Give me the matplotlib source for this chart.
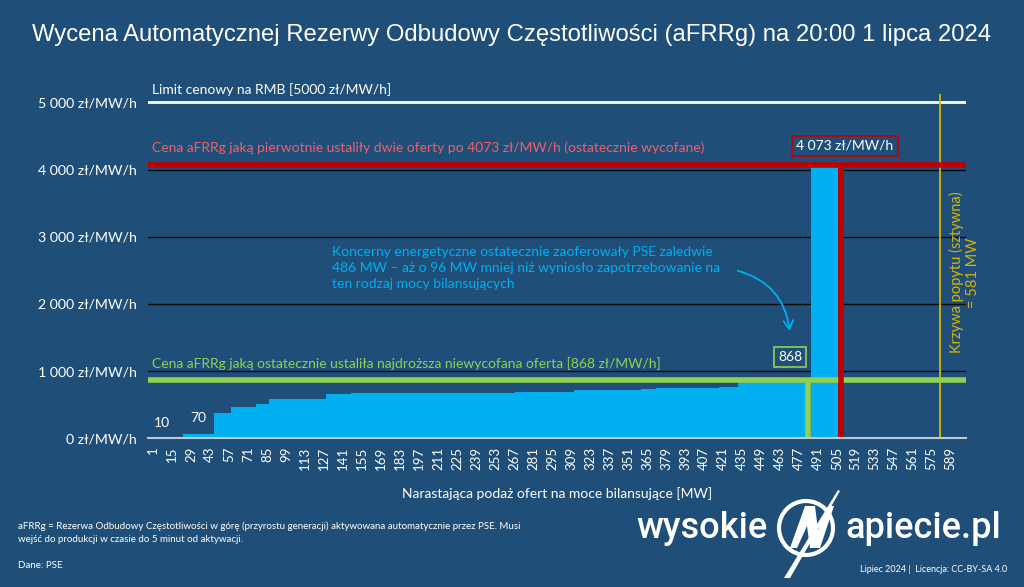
import matplotlib.pyplot as plt
from matplotlib.patches import FancyArrowPatch, Circle, Polygon
from matplotlib.transforms import IdentityTransform

# kolejne oferty: granice skumulowanej mocy [MW] i ceny [zl/MW/h]
edges = [0, 23, 46, 58, 77, 86, 128, 147, 227, 248, 268, 311, 361, 372, 418, 432, 484, 486, 506]
prices = [10, 70, 375, 470, 505, 582, 660, 672, 677, 681, 692, 713, 733, 748, 768, 868, 0, 4073]

limit_price = 5000
withdrawn_price = 4073
clearing_price = 868
accepted_mw = 484
withdrawn_end_mw = 508
demand_mw = 581

xticks = list(range(1, 590, 14))
yticks = [0, 1000, 2000, 3000, 4000, 5000]
ylabels = ["0 zł/MW/h", "1 000 zł/MW/h", "2 000 zł/MW/h", "3 000 zł/MW/h",
           "4 000 zł/MW/h", "5 000 zł/MW/h"]

BG = "#1f4e79"
BLUE = "#00b0f0"
RED = "#c00000"
RED_TXT = "#f0606a"
GREEN = "#92d050"
YELLOW = "#d8b400"
FONT = "Lato"

plt.rcParams["font.family"] = [FONT, "DejaVu Sans"]

W, H = 1024, 587
fig = plt.figure(figsize=(W / 100, H / 100), dpi=100, facecolor=BG)

def px(x, y):
    return x / W, 1 - y / H

l, b = px(148, 438.3)
r, t = px(966, 438.3 - 5200 * 0.0672)
ax = fig.add_axes([l, b, r - l, t - b])
ax.set_facecolor(BG)
ax.set_xlim(-2.9, 600.3)
ax.set_ylim(0, 5200)

ax.stairs(prices, edges, fill=True, color=BLUE, baseline=0, zorder=2)

for y in yticks[1:-1]:
    ax.axhline(y, color="#0a0a0a", lw=1, zorder=1)
ax.axhline(limit_price, color="white", lw=2, zorder=3)
ax.axhline(withdrawn_price, color=RED, lw=4, zorder=4)
ax.axhline(clearing_price, color=GREEN, lw=4, zorder=4)
ax.vlines(withdrawn_end_mw, 0, withdrawn_price, color=RED, lw=4, zorder=4)
ax.vlines(accepted_mw, 0, clearing_price, color=GREEN, lw=4, zorder=4)
ax.vlines(demand_mw, 0, 5130, color=YELLOW, lw=1.3, zorder=3)

ax.set_xticks(xticks)
ax.set_xticklabels([str(v) for v in xticks], rotation=90, fontsize=9.5, color="white")
ax.set_yticks(yticks)
ax.set_yticklabels(ylabels, fontsize=10.2, color="white")
ax.tick_params(length=0)
ax.tick_params(axis="x", pad=6)
ax.tick_params(axis="y", pad=8)
for s in ["top", "right", "left"]:
    ax.spines[s].set_visible(False)
ax.spines["bottom"].set_color("#c0c8d0")
ax.spines["bottom"].set_linewidth(1.5)
ax.spines["bottom"].set_zorder(5)

ax.set_xlabel("Narastająca podaż ofert na moce bilansujące [MW]", color="white",
              fontsize=10, labelpad=12)

# opisy linii
ax.text(0, 5185, "Limit cenowy na RMB [5000 zł/MW/h]", color="white", fontsize=10,
        va="center", ha="left")
ax.text(0, 4320, "Cena aFRRg jaką pierwotnie ustaliły dwie oferty po 4073 zł/MW/h (ostatecznie wycofane)",
        color=RED_TXT, fontsize=10, va="center", ha="left")
ax.text(0, 1106, "Cena aFRRg jaką ostatecznie ustaliła najdroższa niewycofana oferta [868 zł/MW/h]",
        color=GREEN, fontsize=10, va="center", ha="left")
ax.text(7.4, 235, "10", color="white", fontsize=10, ha="center", va="center", zorder=6)
ax.text(34, 300, "70", color="white", fontsize=10, ha="center", va="center", zorder=6)

ax.text(133, 2530,
        "Koncerny energetyczne ostatecznie zaoferowały PSE zaledwie\n"
        "486 MW – aż o 96 MW mniej niż wyniosło zapotrzebowanie na\n"
        "ten rodzaj mocy bilansujących",
        color=BLUE, fontsize=10, va="center", ha="left", linespacing=1.4)

arrow = FancyArrowPatch((430, 2504), (470.5, 1560), connectionstyle="arc3,rad=-0.35",
                        arrowstyle="->,head_length=6,head_width=3.5", color=BLUE, lw=1.3,
                        zorder=6)
ax.add_patch(arrow)

ax.text(470.5, 1210, "868", color="white", fontsize=10, ha="center", va="center", zorder=6,
        bbox=dict(boxstyle="square,pad=0.3", fc=BG, ec=GREEN, lw=1.2))
ax.text(511, 4350, "4 073 zł/MW/h", color="white", fontsize=10, ha="center", va="center",
        zorder=6, bbox=dict(boxstyle="square,pad=0.3", fc=BG, ec=RED, lw=1.2))

ax.text(599, 2470, "Krzywa popytu (sztywna)\n= 581 MW", color=YELLOW, fontsize=10.5,
        rotation=90, ha="center", va="center", multialignment="center", clip_on=False)

# tytul i stopka
fig.text(*px(512, 35), "Wycena Automatycznej Rezerwy Odbudowy Częstotliwości (aFRRg) na 20:00 1 lipca 2024",
         color="white", fontsize=17.2, ha="center", va="center", family="Liberation Sans")
fig.text(*px(18, 533), "aFRRg = Rezerwa Odbudowy Częstotliwości w górę (przyrostu generacji) aktywowana "
         "automatycznie przez PSE. Musi\nwejść do produkcji w czasie do 5 minut od aktywacji.",
         color="white", fontsize=7, ha="left", va="center", linespacing=1.6)
fig.text(*px(18, 566), "Dane: PSE", color="white", fontsize=7, ha="left", va="center")
fig.text(*px(1007, 570), "Lipiec 2024 |  Licencja: CC-BY-SA 4.0", color="white", fontsize=6.5,
         ha="right", va="center")

# logo
fig.text(*px(768, 528), "wysokie", color="white", fontsize=26, ha="right", va="center",
         family="Roboto", weight="medium")
fig.text(*px(845, 528), "apiecie.pl", color="white", fontsize=26, ha="left", va="center",
         family="Roboto", weight="medium")
fig.add_artist(Circle((806, H - 528), 27, transform=IdentityTransform(), fill=False,
                      ec="white", lw=3))
fig.add_artist(Polygon([(790, H - 548), (805, H - 506), (815, H - 506), (818, H - 530),
                        (828, H - 506), (834, H - 506), (820, H - 548), (810, H - 548),
                        (807, H - 526), (797, H - 548)], closed=True,
                       transform=IdentityTransform(), fc="white", ec="none"))
fig.add_artist(Polygon([(784, H - 578), (838, H - 490), (840, H - 491), (790, H - 578)],
                       closed=True, transform=IdentityTransform(), fc="white", ec="none"))

fig.savefig("out.png", dpi=100, facecolor=BG)
